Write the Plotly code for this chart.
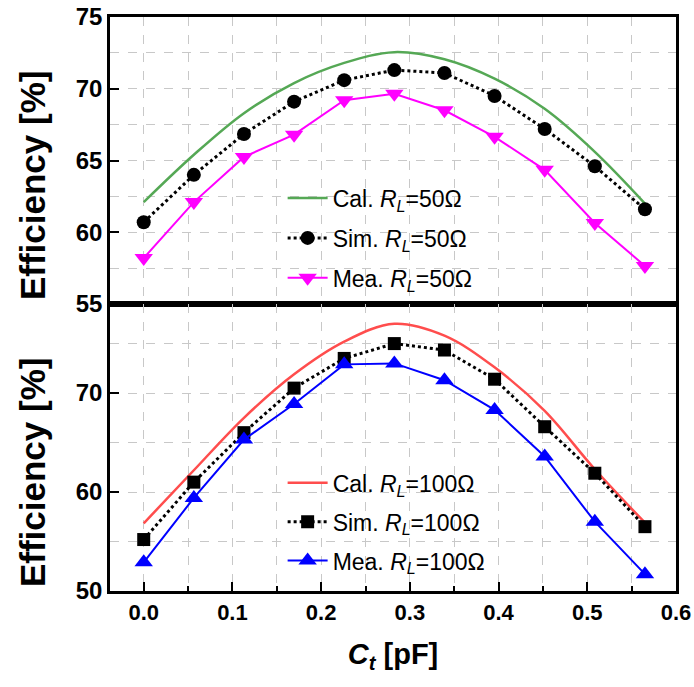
import plotly.graph_objects as go
from plotly.subplots import make_subplots

ct = [0.0, 0.0565, 0.113, 0.1695, 0.226, 0.2825, 0.339, 0.3955, 0.452, 0.5085, 0.565]

# R_L = 50 ohm
cal_50 = [62.1, 65.4, 68.3, 70.4, 71.8, 72.55, 72.05, 70.7, 68.6, 65.6, 62.0]
sim_50 = [60.7, 64.0, 66.85, 69.1, 70.6, 71.3, 71.1, 69.5, 67.2, 64.6, 61.6]
mea_50 = [58.2, 62.1, 65.25, 66.8, 69.2, 69.65, 68.5, 66.65, 64.35, 60.65, 57.65]

# R_L = 100 ohm
cal_100 = [56.84, 62.2, 67.5, 71.9, 75.2, 77.0, 75.8, 72.6, 68.2, 62.3, 56.9]
sim_100 = [55.2, 61.0, 66.0, 70.5, 73.5, 75.0, 74.35, 71.4, 66.6, 61.9, 56.5]
mea_100 = [52.9, 59.4, 65.3, 68.9, 72.9, 73.0, 71.3, 68.3, 63.6, 57.0, 51.7]

y_title = "Efficiency [%]"
x_title = "<i>C<sub>t</sub></i> [pF]"

FONT = "Liberation Sans, Arial, sans-serif"
GREEN = "#55a855"
RED = "#ff4d4d"
MAGENTA = "#ff00ff"
BLUE = "#0000ff"

fig = make_subplots(rows=2, cols=1, shared_xaxes=True, vertical_spacing=0)

def nm(kind, r):
    return f"{kind} <i>R<sub>L</sub></i>={r}Ω"

fig.add_trace(go.Scatter(x=ct, y=cal_50, mode="lines", line=dict(color=GREEN, width=2.5, shape="spline"),
                         name=nm("Cal.", 50), legend="legend", legendgroup="a1"), row=1, col=1)
fig.add_trace(go.Scatter(x=ct, y=sim_50, mode="lines+markers", line=dict(color="black", width=3, dash="dot"),
                         marker=dict(symbol="circle", size=14, color="black"),
                         name=nm("Sim.", 50), legend="legend", legendgroup="a2"), row=1, col=1)
fig.add_trace(go.Scatter(x=ct, y=mea_50, mode="lines+markers", line=dict(color=MAGENTA, width=2),
                         marker=dict(symbol="triangle-down", size=16, color=MAGENTA),
                         name=nm("Mea.", 50), legend="legend", legendgroup="a3"), row=1, col=1)

fig.add_trace(go.Scatter(x=ct, y=cal_100, mode="lines", line=dict(color=RED, width=2.5, shape="spline"),
                         name=nm("Cal.", 100), legend="legend2", legendgroup="b1"), row=2, col=1)
fig.add_trace(go.Scatter(x=ct, y=sim_100, mode="lines+markers", line=dict(color="black", width=3, dash="dot"),
                         marker=dict(symbol="square", size=13, color="black"),
                         name=nm("Sim.", 100), legend="legend2", legendgroup="b2"), row=2, col=1)
fig.add_trace(go.Scatter(x=ct, y=mea_100, mode="lines+markers", line=dict(color=BLUE, width=2),
                         marker=dict(symbol="triangle-up", size=16, color=BLUE),
                         name=nm("Mea.", 100), legend="legend2", legendgroup="b3"), row=2, col=1)

grid = dict(showgrid=True, gridcolor="#c8c8c8", griddash="dash", gridwidth=1)
axline = dict(showline=True, linecolor="black", linewidth=2.5, mirror=True, zeroline=False, automargin=False)

fig.update_xaxes(range=[-0.038, 0.6], dtick=0.1, tick0=0, **grid, **axline,
                 minor=dict(dtick=0.05, tick0=0, showgrid=True, gridcolor="#c8c8c8", griddash="dash",
                            ticks="inside", ticklen=5, tickwidth=2, tickcolor="black"),
                 ticks="inside", ticklen=9, tickwidth=2, tickcolor="black",
                 tickformat=".1f",
                 tickfont=dict(family=FONT, size=22, color="black", weight="bold"))
fig.update_xaxes(ticks="", showticklabels=False, minor_ticks="", row=1, col=1)
fig.update_xaxes(title=dict(text=x_title, standoff=20,
                            font=dict(family=FONT, size=29, color="black", weight="bold")), row=2, col=1)

ycommon = dict(**grid, **axline, ticks="inside", ticklen=9, tickwidth=2, tickcolor="black",
               tickfont=dict(family=FONT, size=24, color="black", weight="bold"))
fig.update_yaxes(range=[55, 75], dtick=5, tick0=55,
                 minor=dict(dtick=2.5, tick0=55, showgrid=True, gridcolor="#c8c8c8", griddash="dash"),
                 **ycommon, row=1, col=1)
fig.update_yaxes(range=[50, 79], dtick=10, tick0=50,
                 minor=dict(dtick=5, tick0=50, showgrid=True, gridcolor="#c8c8c8", griddash="dash"),
                 **ycommon, row=2, col=1)

for yc in (0.707, 0.207):
    fig.add_annotation(text=y_title, textangle=-90, xref="paper", yref="paper",
                       x=-0.138, y=yc, xanchor="center", yanchor="middle", showarrow=False,
                       font=dict(family=FONT, size=35, color="black", weight="bold"))

legfont = dict(family=FONT, size=23, color="black")
fig.update_layout(
    width=694, height=687,
    margin=dict(l=110, r=18, t=17, b=96),
    plot_bgcolor="white", paper_bgcolor="white",
    legend=dict(x=0.305, y=0.722, xanchor="left", yanchor="top", bgcolor="rgba(0,0,0,0)",
                font=legfont, itemwidth=40, tracegroupgap=7, traceorder="grouped"),
    legend2=dict(x=0.305, y=0.226, xanchor="left", yanchor="top", bgcolor="rgba(0,0,0,0)",
                 font=legfont, itemwidth=40, tracegroupgap=6, traceorder="grouped"),
)

fig.write_html("out.html")
